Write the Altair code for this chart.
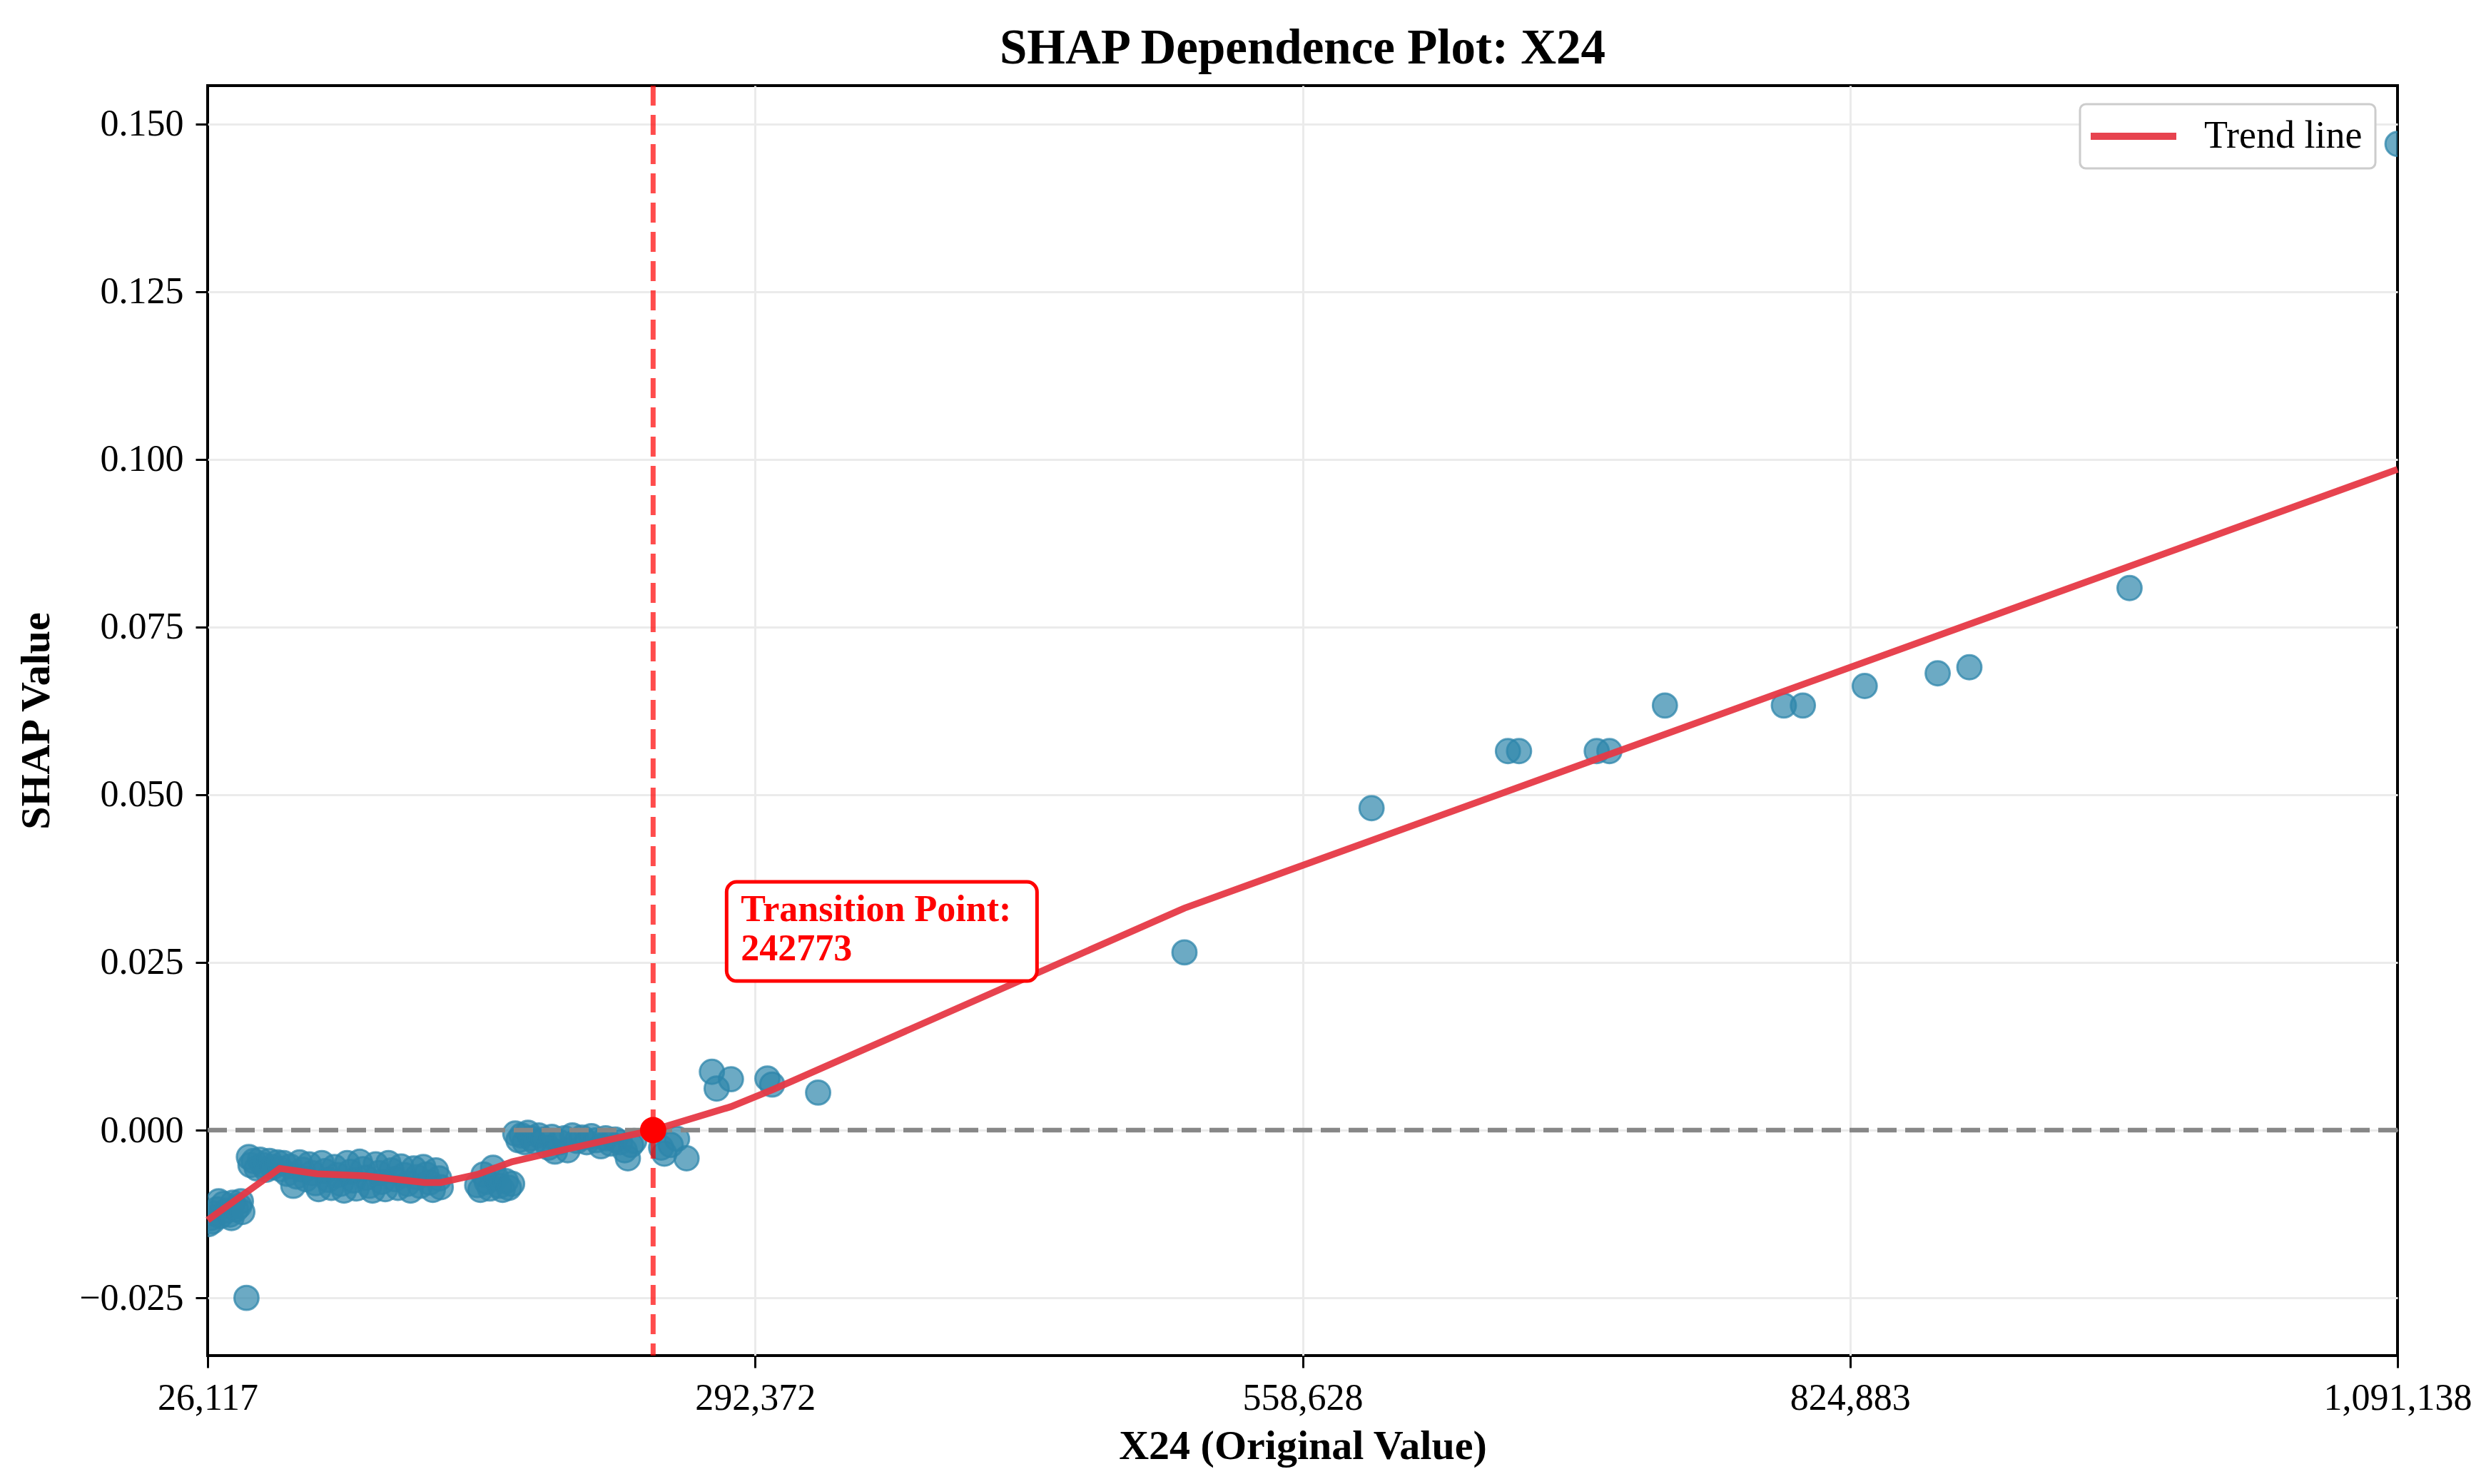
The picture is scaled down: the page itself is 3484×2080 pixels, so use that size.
import altair as alt
import pandas as pd

FONT = "Liberation Serif"

# ---------------- data ----------------
cluster_a = [(26600, -0.0140), (27660, -0.0131), (28500, -0.0136), (29200, -0.0124),
             (30740, -0.0118), (31500, -0.0106), (32290, -0.0128), (33830, -0.0110),
             (35370, -0.0120), (36910, -0.0126), (37700, -0.0131), (38460, -0.0108),
             (40000, -0.0118), (41540, -0.0113), (42300, -0.0106), (43000, -0.0122)]
outlier = [(45000, -0.0250)]
cluster_b = [(46170, -0.0040), (46940, -0.0052), (48480, -0.0046), (50020, -0.0057),
             (51570, -0.0044), (53110, -0.0052), (54650, -0.0059), (56190, -0.0046),
             (57740, -0.0055), (60050, -0.0048), (61590, -0.0058), (63130, -0.0049),
             (64680, -0.0065), (66220, -0.0054), (67760, -0.0083), (69310, -0.0069),
             (70850, -0.0048), (72390, -0.0059), (73930, -0.0073), (75470, -0.0051),
             (77020, -0.0064), (78560, -0.0079), (80100, -0.0088), (81640, -0.0049),
             (83190, -0.0061), (84730, -0.0074), (86270, -0.0086), (87810, -0.0055),
             (89360, -0.0067), (90900, -0.0080), (92440, -0.0090), (93980, -0.0049),
             (95520, -0.0062), (97070, -0.0075), (98610, -0.0087), (100150, -0.0047),
             (101690, -0.0058), (103240, -0.0071), (104780, -0.0083), (106320, -0.0090),
             (107860, -0.0051), (109410, -0.0064), (110950, -0.0077), (112490, -0.0088),
             (114030, -0.0049), (115570, -0.0060), (117120, -0.0073), (118660, -0.0086),
             (120200, -0.0054), (121750, -0.0067), (123290, -0.0080), (124830, -0.0090),
             (126370, -0.0057), (127910, -0.0070), (129460, -0.0083), (131000, -0.0055),
             (132540, -0.0066), (134080, -0.0078), (135630, -0.0089), (137170, -0.0060),
             (138710, -0.0072), (139480, -0.0085)]
cluster_c = [(157220, -0.0082), (158760, -0.0089), (160300, -0.0066), (161850, -0.0077),
             (163390, -0.0087), (164930, -0.0056), (166470, -0.0071), (168020, -0.0083),
             (169560, -0.0089), (171100, -0.0076), (172640, -0.0086), (174190, -0.0080)]
cluster_d = [(175730, -0.0005), (177270, -0.0015), (178810, -0.0008), (180360, -0.0018),
             (181900, -0.0004), (183440, -0.0012), (184980, -0.0017), (187300, -0.0008),
             (189610, -0.0014), (191930, -0.0026), (193470, -0.0010), (195010, -0.0032),
             (197320, -0.0018), (199640, -0.0012), (201180, -0.0030), (203490, -0.0008),
             (205810, -0.0016), (208120, -0.0011), (210440, -0.0018), (212750, -0.0009),
             (215060, -0.0015), (217380, -0.0024), (219690, -0.0012), (222000, -0.0020),
             (224320, -0.0014), (226630, -0.0018), (228950, -0.0030), (230490, -0.0042),
             (232030, -0.0022), (233570, -0.0016),
             (246680, -0.0026), (248230, -0.0035), (251310, -0.0022), (254400, -0.0013),
             (259030, -0.0042)]
near_transition = [(271360, 0.0087), (273670, 0.0062), (280610, 0.0076),
                   (298350, 0.0077), (300660, 0.0068), (323020, 0.0056)]
upper_points = [(501180, 0.0265), (592180, 0.0480), (658500, 0.0565), (663900, 0.0565),
                (701690, 0.0565), (707860, 0.0565), (734850, 0.0633), (792690, 0.0633),
                (801940, 0.0633), (832020, 0.0662), (867500, 0.0681), (882920, 0.0690),
                (960810, 0.0808), (1091138, 0.1470)]

trend_x = [26117, 61200, 79330, 102470, 131770, 139480, 157220, 174190,
           199640, 228950, 242773, 280610, 301440, 501180, 1091138]
trend_y = [-0.0134, -0.0057, -0.0065, -0.0068, -0.0078, -0.0078, -0.0066, -0.0047,
           -0.0029, -0.0009, 0.0000, 0.0035, 0.0061, 0.0331, 0.0985]

transition_x = 242773
transition_y = 0.0

x_ticks = [26117, 292372, 558628, 824883, 1091138]
y_ticks = [-0.025, 0.0, 0.025, 0.050, 0.075, 0.100, 0.125, 0.150]
x_domain = [26117, 1091138]
y_domain = [-0.0336, 0.1557]

# ---------------- tables ----------------
points = cluster_a + outlier + cluster_b + cluster_c + cluster_d + near_transition + upper_points
scatter_df = pd.DataFrame(points, columns=["x", "y"])
trend_df = pd.DataFrame({"x": trend_x, "y": trend_y, "series": ["Trend line"] * len(trend_x)})
zero_df = pd.DataFrame({"y": [0.0]})
vline_df = pd.DataFrame({"x": [transition_x]})
dot_df = pd.DataFrame({"x": [transition_x], "y": [transition_y],
                       "label": [f"Transition Point:\n{transition_x}"]})

# ---------------- encodings ----------------
edge_test = f"datum.value === {x_domain[0]} || datum.value === {x_domain[1]}"
x_axis = alt.Axis(values=x_ticks, format=",d", labelFlush=False, labelOverlap=False,
                  labelBound=False, labelLimit=600, title="X24 (Original Value)",
                  titleY=127, titleBaseline="middle",
                  gridOpacity={"condition": {"test": edge_test, "value": 0}, "value": 1})
y_axis = alt.Axis(values=y_ticks, format=".3f", labelOverlap=False, labelLimit=600,
                  title="SHAP Value", titleX=-240, titleY=890,
                  titleAngle=-90, titleBaseline="middle", titleAlign="center")
xenc = alt.X("x:Q", scale=alt.Scale(domain=x_domain, nice=False, zero=False), axis=x_axis)
yenc = alt.Y("y:Q", scale=alt.Scale(domain=y_domain, nice=False, zero=False), axis=y_axis)

scatter = alt.Chart(scatter_df).mark_circle(
    size=1150, fill="#2E86AB", fillOpacity=0.7, stroke="#2E86AB",
    strokeOpacity=0.75, strokeWidth=3, clip=True
).encode(x=xenc, y=yenc)

zero_line = alt.Chart(zero_df).mark_rule(
    color="#878787", strokeWidth=6.5, strokeDash=[27, 12]
).encode(y=yenc)

vline = alt.Chart(vline_df).mark_rule(
    color="#ff0000", opacity=0.7, strokeWidth=7, strokeDash=[28, 13]
).encode(x=xenc)

trend = alt.Chart(trend_df).mark_line(strokeWidth=9.5, opacity=0.95).encode(
    x=xenc, y=yenc,
    color=alt.Color("series:N",
                    scale=alt.Scale(domain=["Trend line"], range=["#E63946"]),
                    legend=alt.Legend(title=None, orient="none", legendX=2624, legendY=26,
                                      symbolType="M-3,0H9", symbolSize=400,
                                      symbolStrokeWidth=10, labelFont=FONT,
                                      labelFontSize=54, labelColor="black",
                                      labelLimit=600, labelOffset=102, padding=18,
                                      strokeColor="#cccccc", fillColor="white",
                                      cornerRadius=8))
)

dot = alt.Chart(dot_df).mark_circle(size=1365, color="#ff0000", opacity=1).encode(x=xenc, y=yenc)

box = alt.Chart(dot_df).mark_rect(
    fill="white", stroke="#ff0000", strokeWidth=5, cornerRadius=14,
    xOffset=103, x2Offset=538, yOffset=-348, y2Offset=-209
).encode(x=xenc, x2="x", y=yenc, y2="y")

label = alt.Chart(dot_df).mark_text(
    align="left", baseline="alphabetic", dx=123, dy=-293, font=FONT,
    fontSize=52, fontWeight="bold", color="#ff0000", lineBreak="\n", lineHeight=55
).encode(x=xenc, y=yenc, text="label:N")

chart = alt.layer(scatter, zero_line, vline, trend, dot, box, label).properties(
    width=3069, height=1780,
    title=alt.TitleParams("SHAP Dependence Plot: X24", font=FONT, fontSize=69,
                          fontWeight="bold", color="black", anchor="middle",
                          baseline="alphabetic", offset=27, dy=68, frame="group"),
    autosize=alt.AutoSizeParams(type="none"),
    padding={"left": 283, "top": 112, "right": 108, "bottom": 160},
).configure_view(
    stroke="black", strokeWidth=4
).configure_axis(
    domain=False, grid=True, gridColor="#ebebeb", gridWidth=3,
    tickColor="black", tickWidth=3, tickSize=17, labelPadding=17,
    labelFont=FONT, labelFontSize=52, labelColor="black",
    titleFont=FONT, titleFontSize=58, titleFontWeight="bold", titleColor="black"
).configure_legend(
    strokeWidth=3
)

chart.save("out.html", embed_options={"renderer": "svg", "actions": False})
